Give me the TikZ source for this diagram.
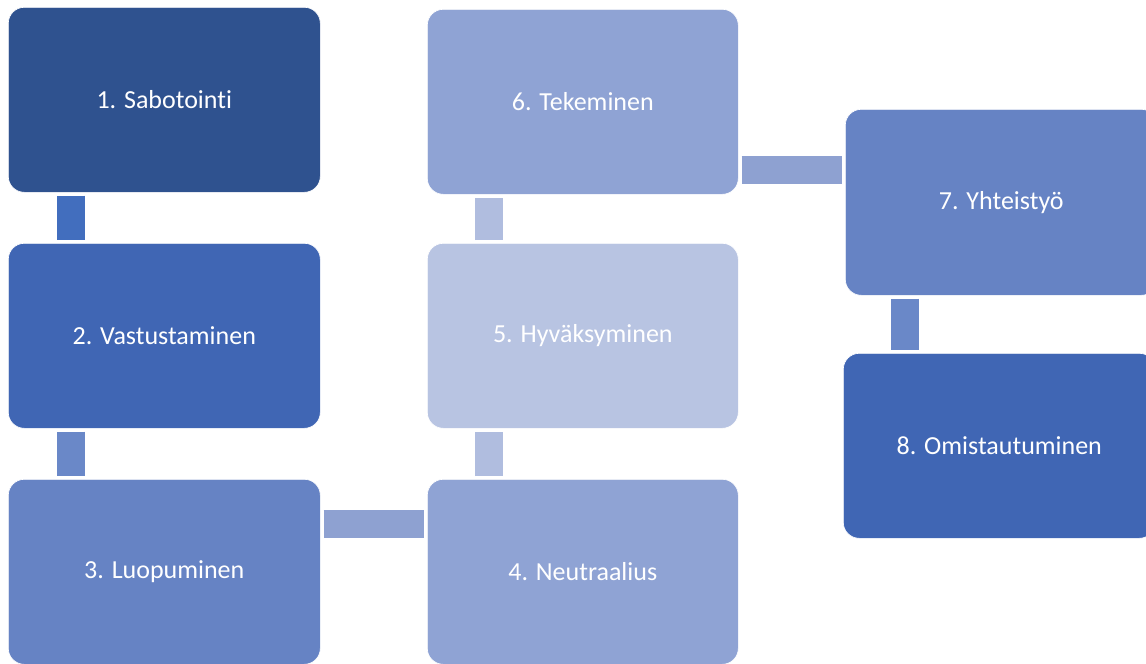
\documentclass[tikz,border=0pt]{standalone}
\usepackage{fontspec}
\setmainfont{Carlito}[Ligatures={NoCommon}]
\usepackage{tikz}

\definecolor{stepA}{RGB}{47,82,143}
\definecolor{stepB}{RGB}{64,102,180}
\definecolor{stepC}{RGB}{102,131,196}
\definecolor{stepD}{RGB}{143,163,212}
\definecolor{stepE}{RGB}{184,196,226}
\definecolor{linkA}{RGB}{66,110,190}
\definecolor{linkC}{RGB}{106,136,200}
\definecolor{linkD}{RGB}{142,161,209}
\definecolor{linkE}{RGB}{176,189,223}

\tikzset{
	stepbox/.style={rectangle, rounded corners=16pt, draw=white, line width=0.6pt,
		minimum width=312pt, minimum height=185pt, inner sep=0pt, anchor=north west,
		text=white, font=\fontsize{26}{30}\selectfont},
	linkbar/.style={line width=28pt, shorten <=3pt, shorten >=3pt}
}

\begin{document}
\begin{tikzpicture}[x=1pt, y=-1pt]
			%%%%% START %%%%%
			
			\useasboundingbox (0, 0) rectangle (1146, 664);
			\clip (0, 0) rectangle (1146, 664);
			
			\node[stepbox, fill=stepA] (sabotointi) at (8, 7) {1. Sabotointi};
			\node[stepbox, fill=stepB] (vastustaminen) at (8, 243) {2. Vastustaminen};
			\node[stepbox, fill=stepC] (luopuminen) at (8, 479) {3. Luopuminen};
			
			\node[stepbox, fill=stepD, minimum width=311pt] (neutraalius) at (427, 479) {4. Neutraalius};
			\node[stepbox, fill=stepE, minimum width=311pt] (hyvaksyminen) at (427, 243) {5. Hyväksyminen};
			\node[stepbox, fill=stepD, minimum width=311pt] (tekeminen) at (427, 9) {6. Tekeminen};
			
			\node[stepbox, fill=stepC, minimum height=186pt] (yhteistyo) at (845, 109) {7. Yhteistyö};
			\node[stepbox, fill=stepB] (omistautuminen) at (843, 353) {8. Omistautuminen};
			
			% connectors
			\draw[linkbar, color=linkA] ([xshift=62.5pt]sabotointi.south west) -- ([xshift=62.5pt]vastustaminen.north west);
			\draw[linkbar, color=linkC] ([xshift=62.5pt]vastustaminen.south west) -- ([xshift=62.5pt]luopuminen.north west);
			\draw[linkbar, color=linkD] ([yshift=-44.5pt]luopuminen.north east) -- ([yshift=-44.5pt]neutraalius.north west);
			\draw[linkbar, color=linkE] ([xshift=62pt]neutraalius.north west) -- ([xshift=62pt]hyvaksyminen.south west);
			\draw[linkbar, color=linkE] ([xshift=62pt]hyvaksyminen.north west) -- ([xshift=62pt]tekeminen.south west);
			\draw[linkbar, color=linkD] ([yshift=-161pt]tekeminen.north east) -- ([yshift=-61pt]yhteistyo.north west);
			\draw[linkbar, color=linkC] ([xshift=60pt]yhteistyo.south west) -- ([xshift=62pt]omistautuminen.north west);
			
			%%%%% END %%%%%
		\end{tikzpicture}
\end{document}
